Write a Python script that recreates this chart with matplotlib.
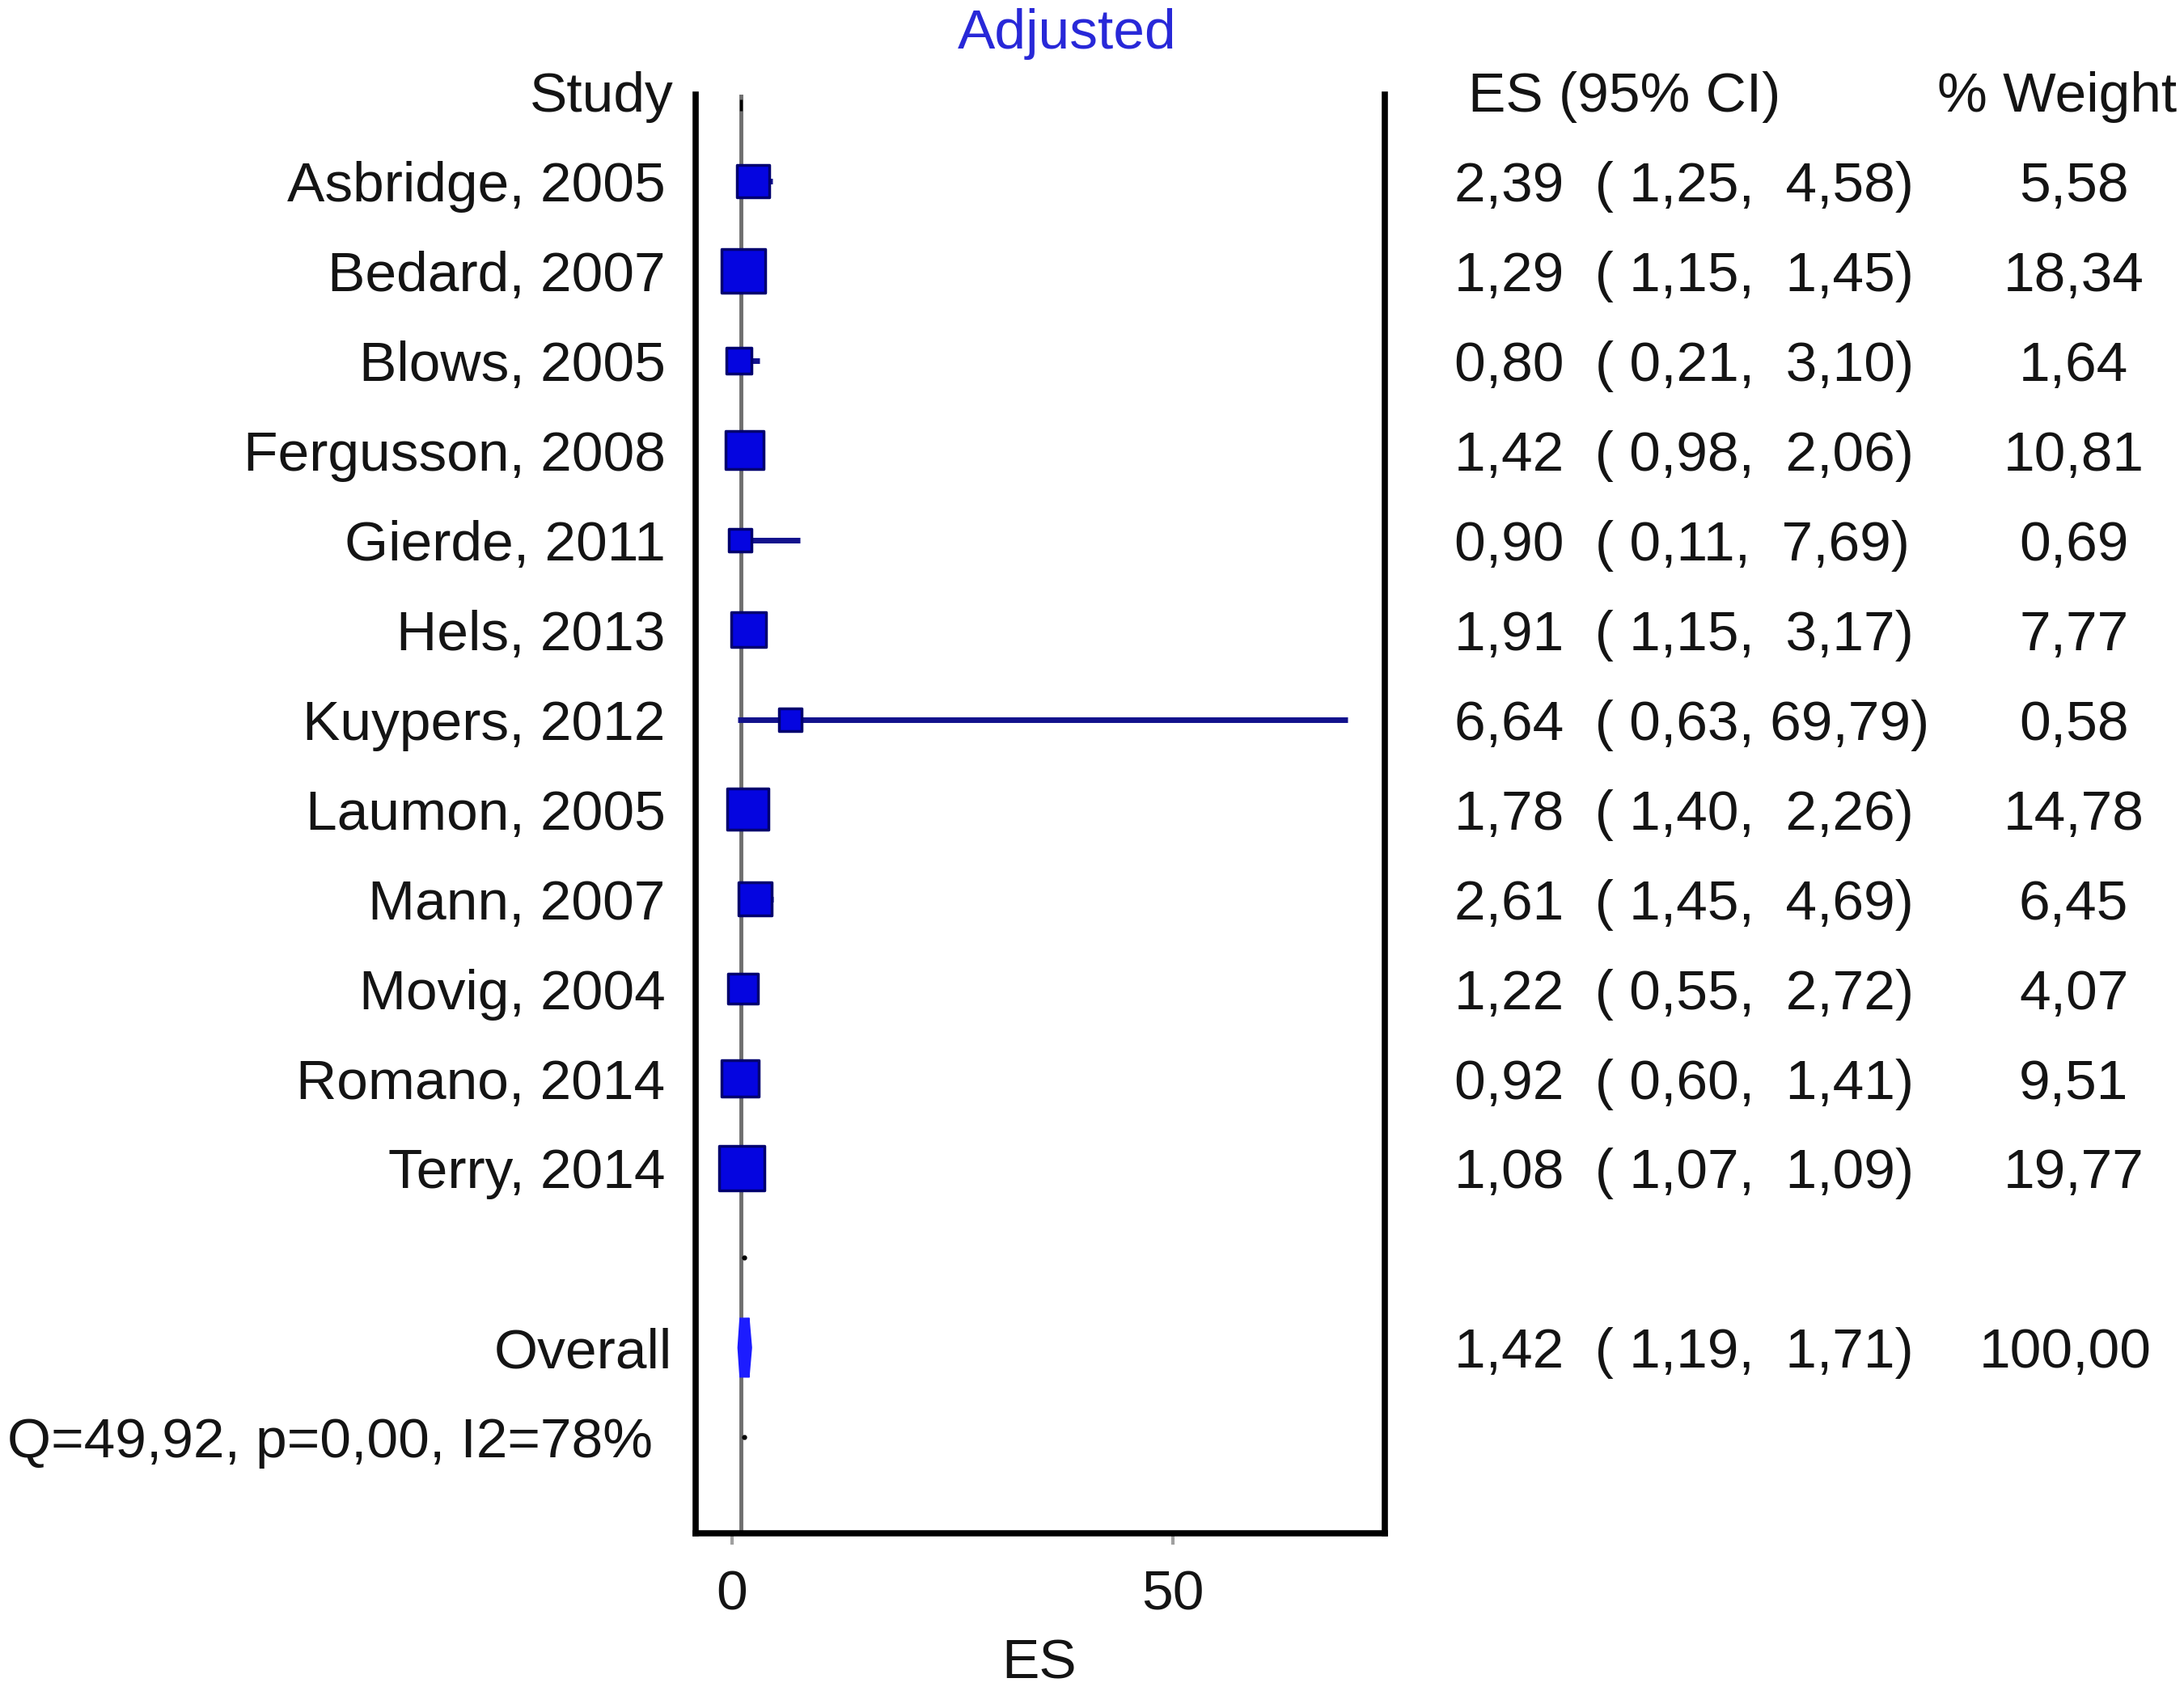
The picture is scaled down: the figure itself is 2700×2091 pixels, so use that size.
import matplotlib
matplotlib.use('Agg')
import matplotlib.pyplot as plt
import matplotlib.transforms as mtransforms
from matplotlib.patches import Polygon
import numpy as np

plt.rcParams['font.family'] = ['Liberation Sans', 'DejaVu Sans']

# ---- data ----
studies = ['Asbridge, 2005', 'Bedard, 2007', 'Blows, 2005', 'Fergusson, 2008',
           'Gierde, 2011', 'Hels, 2013', 'Kuypers, 2012', 'Laumon, 2005',
           'Mann, 2007', 'Movig, 2004', 'Romano, 2014', 'Terry, 2014']
es = [2.39, 1.29, 0.80, 1.42, 0.90, 1.91, 6.64, 1.78, 2.61, 1.22, 0.92, 1.08]
ci_low = [1.25, 1.15, 0.21, 0.98, 0.11, 1.15, 0.63, 1.40, 1.45, 0.55, 0.60, 1.07]
ci_high = [4.58, 1.45, 3.10, 2.06, 7.69, 3.17, 69.79, 2.26, 4.69, 2.72, 1.41, 1.09]
weights = [5.58, 18.34, 1.64, 10.81, 0.69, 7.77, 0.58, 14.78, 6.45, 4.07, 9.51, 19.77]

overall_es = 1.42
overall_low = 1.19
overall_high = 1.71
overall_weight = 100.00
het_text = 'Q=49,92, p=0,00, I2=78%'
xticks = [0, 50]


def fmt(v, width=0):
    return f"{v:{width}.2f}".replace('.', ',')


FS = 50
TXT = '#141414'
VA = 'center_baseline'
n = len(studies)
rows = np.arange(1, n + 1)
overall_row = n + 2
het_row = n + 3

fig = plt.figure(figsize=(27, 20.91), dpi=100)
ax = fig.add_axes([0.3186, 0.0932, 0.3155, 0.8507])
ax.set_xlim(-4.1, 74.05)
ax.set_ylim(16.07, 0.04)

# reference line at 1
ax.axvline(1, color='#6e6e6e', lw=3.5, zorder=1)
ax.plot([1], [0.15], marker='|', color='black', ms=10, mew=2.5, zorder=2)

# study CIs and weighted boxes
ax.hlines(rows, ci_low, ci_high, color='#12128c', lw=5, zorder=2)
sizes = (0.72 * (22 + 7.6 * np.sqrt(weights))) ** 2
ax.scatter(es, rows, s=sizes, marker='s', facecolor='#0505e0',
           edgecolor='#00006e', linewidth=2.5, zorder=3)

# pooled estimate
hh = 0.33
diamond = Polygon([(overall_low, overall_row), (overall_es, overall_row - hh),
                   (overall_high, overall_row), (overall_es, overall_row + hh)],
                  closed=True, facecolor='#1c1cff', edgecolor='#1c1cff',
                  lw=9, joinstyle='bevel', zorder=3)
ax.add_patch(diamond)
ax.plot([overall_es, overall_es], [overall_row - 1, overall_row + 1],
        ls='none', marker='o', ms=3.5, color='black', zorder=2)

# frame
ax.spines['top'].set_visible(False)
for side in ['left', 'right', 'bottom']:
    ax.spines[side].set_linewidth(5.5)
    ax.spines[side].set_color('black')
ax.set_yticks([])
ax.set_xticks(xticks)
ax.tick_params(axis='x', length=10, width=3, color='#a0a0a0',
               labelsize=FS, labelcolor=TXT, pad=22)
ax.set_xlabel('ES', fontsize=FS, color=TXT, va='center')
ax.xaxis.set_label_coords(0.498, -0.0905)

# text columns
trans = mtransforms.blended_transform_factory(fig.transFigure, ax.transData)
ax.text(0.3084, 0, 'Study', transform=trans, ha='right', va=VA, fontsize=FS, color=TXT)
ax.text(0.6724, 0, 'ES (95% CI)', transform=trans, ha='left', va=VA, fontsize=FS, color=TXT)
ax.text(0.942, 0, '% Weight', transform=trans, ha='center', va=VA, fontsize=FS, color=TXT)

for r, name, e, lo, hi, w in zip(rows, studies, es, ci_low, ci_high, weights):
    ax.text(0.3046, r, name, transform=trans, ha='right', va=VA, fontsize=FS, color=TXT)
    ax.text(0.666, r, f"{fmt(e)}  ({fmt(lo, 5)},{fmt(hi, 6)})", transform=trans,
            ha='left', va=VA, fontsize=FS, color=TXT)
    ax.text(0.9495, r, fmt(w), transform=trans, ha='center', va=VA, fontsize=FS, color=TXT)

ax.text(0.3078, overall_row, 'Overall', transform=trans, ha='right', va=VA, fontsize=FS, color=TXT)
ax.text(0.666, overall_row, f"{fmt(overall_es)}  ({fmt(overall_low, 5)},{fmt(overall_high, 6)})",
        transform=trans, ha='left', va=VA, fontsize=FS, color=TXT)
ax.text(0.9457, overall_row, fmt(overall_weight), transform=trans, ha='center', va=VA,
        fontsize=FS, color=TXT)
ax.text(0.0032, het_row, het_text, transform=trans, ha='left', va=VA, fontsize=FS, color=TXT)

fig.text(0.4885, 0.980, 'Adjusted', ha='center', va='center', fontsize=FS, color='#2828d8')

fig.savefig('out.png', dpi=100, facecolor='white')
